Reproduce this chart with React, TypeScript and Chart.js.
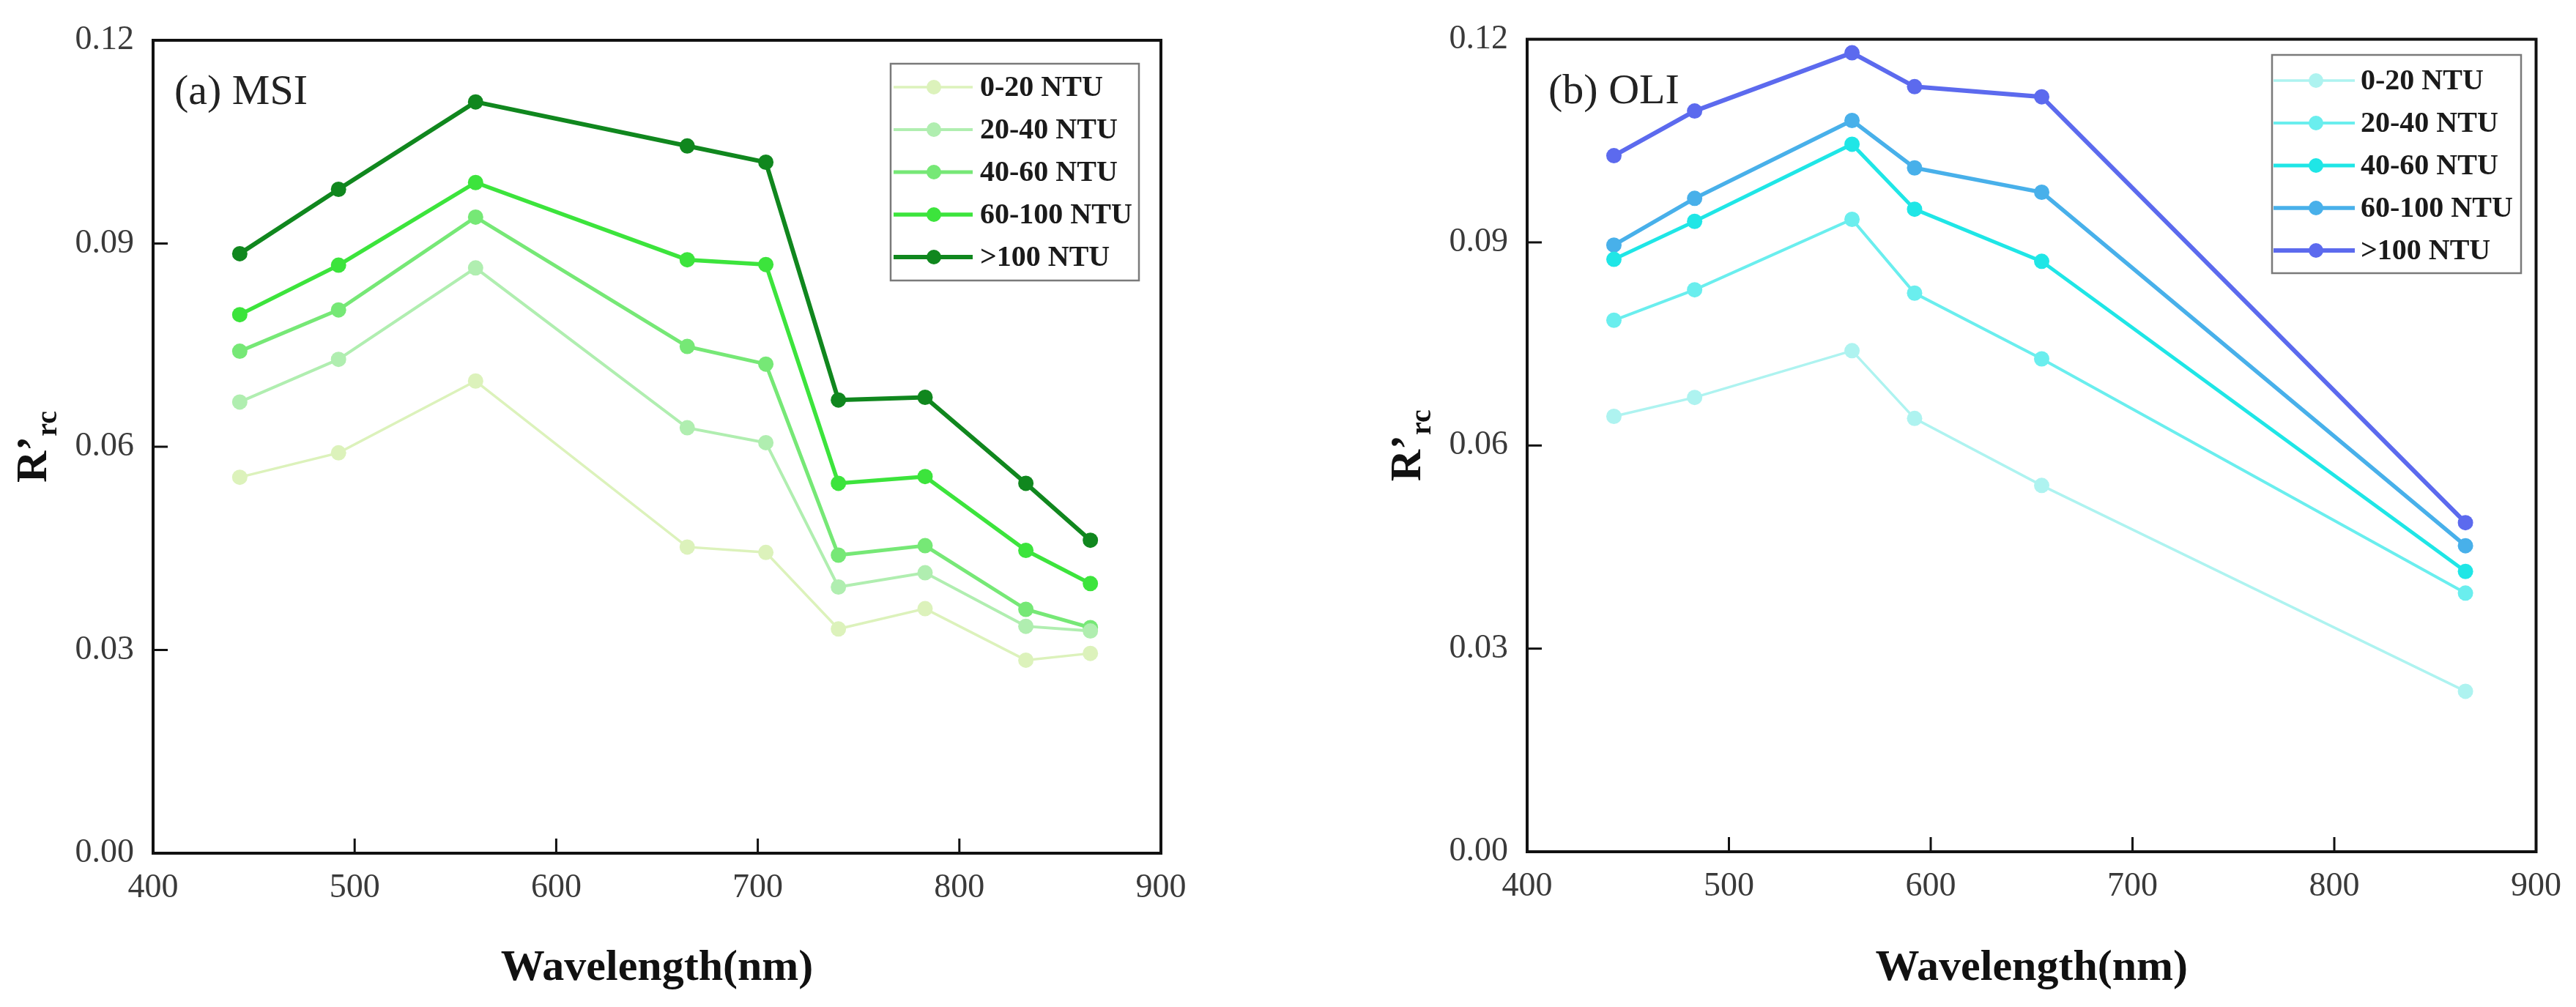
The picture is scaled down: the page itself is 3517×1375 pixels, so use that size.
import React, { useEffect, useRef } from "react";
import { Chart, registerables } from "chart.js";

Chart.register(...registerables);

// ---------- data ----------
const NTU_LABELS = ["0-20 NTU", "20-40 NTU", "40-60 NTU", "60-100 NTU", ">100 NTU"];

const MSI_WAVELENGTHS = [443, 492, 560, 665, 704, 740, 783, 833, 865];
const MSI_0_20 = [0.0555, 0.0591, 0.0697, 0.0452, 0.0444, 0.0331, 0.0361, 0.0285, 0.0295];
const MSI_20_40 = [0.0666, 0.0729, 0.0864, 0.0628, 0.0606, 0.0393, 0.0414, 0.0335, 0.0328];
const MSI_40_60 = [0.0741, 0.0802, 0.0939, 0.0748, 0.0722, 0.044, 0.0454, 0.036, 0.0333];
const MSI_60_100 = [0.0795, 0.0868, 0.099, 0.0876, 0.0869, 0.0546, 0.0556, 0.0447, 0.0398];
const MSI_GT100 = [0.0885, 0.098, 0.1109, 0.1044, 0.102, 0.0669, 0.0673, 0.0546, 0.0462];

const OLI_WAVELENGTHS = [443, 483, 561, 592, 655, 865];
const OLI_0_20 = [0.0643, 0.0671, 0.074, 0.064, 0.0541, 0.0237];
const OLI_20_40 = [0.0785, 0.083, 0.0934, 0.0825, 0.0728, 0.0382];
const OLI_40_60 = [0.0875, 0.0931, 0.1045, 0.0949, 0.0872, 0.0414];
const OLI_60_100 = [0.0896, 0.0965, 0.108, 0.101, 0.0974, 0.0452];
const OLI_GT100 = [0.1028, 0.1094, 0.118, 0.113, 0.1115, 0.0486];

const X_TICKS = [400, 500, 600, 700, 800, 900];
const Y_TICKS = [0, 0.03, 0.06, 0.09, 0.12];

const MSI_COLORS = ["#dcf2bb", "#b0eeb0", "#76e876", "#3ce43c", "#10871e"];
const OLI_COLORS = ["#aef3f0", "#6aeeee", "#1fe6e6", "#48b0ea", "#5c6aee"];
const LINE_WIDTHS = [3.5, 4, 5, 5.5, 6];

const FONT = "'Liberation Serif', 'DejaVu Serif', serif";
const H = 1375;

type Panel = {
  tag: string;
  xs: number[];
  series: number[][];
  colors: string[];
  canvasLeft: number;
  width: number;
  plot: { left: number; top: number; right: number; bottom: number };
  legend: { x0: number; y0: number; x1: number; y1: number; firstY: number; step: number; lineX0: number; lineX1: number; markerX: number; textX: number };
};

const PANELS: Panel[] = [
  {
    tag: "(a) MSI",
    xs: MSI_WAVELENGTHS,
    series: [MSI_0_20, MSI_20_40, MSI_40_60, MSI_60_100, MSI_GT100],
    colors: MSI_COLORS,
    canvasLeft: 0,
    width: 1758,
    plot: { left: 209, top: 55, right: 1585, bottom: 1165 },
    legend: { x0: 1216, y0: 87, x1: 1555, y1: 383, firstY: 119, step: 58, lineX0: 1220, lineX1: 1328, markerX: 1275, textX: 1338 },
  },
  {
    tag: "(b) OLI",
    xs: OLI_WAVELENGTHS,
    series: [OLI_0_20, OLI_20_40, OLI_40_60, OLI_60_100, OLI_GT100],
    colors: OLI_COLORS,
    canvasLeft: 1758,
    width: 1759,
    plot: { left: 327, top: 48, right: 1709, bottom: 1163 },
    legend: { x0: 1344, y0: 75, x1: 1684, y1: 373, firstY: 110, step: 58, lineX0: 1346, lineX1: 1457, markerX: 1404, textX: 1465 },
  },
];

function makeDecorPlugin(p: Panel) {
  return {
    id: "decor",
    afterDraw(chart: any) {
      const ctx = chart.ctx as CanvasRenderingContext2D;
      const area = chart.chartArea;
      const xs = chart.scales.x;
      const ys = chart.scales.y;
      ctx.save();
      // ticks (inward)
      ctx.strokeStyle = "#111";
      ctx.lineWidth = 3;
      X_TICKS.slice(1, -1).forEach((v) => {
        const px = xs.getPixelForValue(v);
        ctx.beginPath();
        ctx.moveTo(px, area.bottom);
        ctx.lineTo(px, area.bottom - 20);
        ctx.stroke();
      });
      Y_TICKS.slice(1, -1).forEach((v) => {
        const py = ys.getPixelForValue(v);
        ctx.beginPath();
        ctx.moveTo(area.left, py);
        ctx.lineTo(area.left + 20, py);
        ctx.stroke();
      });
      // frame
      ctx.lineWidth = 4;
      ctx.strokeStyle = "#111";
      ctx.strokeRect(area.left, area.top, area.right - area.left, area.bottom - area.top);

      // panel tag
      ctx.fillStyle = "#222";
      ctx.font = `58px ${FONT}`;
      ctx.textAlign = "left";
      ctx.textBaseline = "alphabetic";
      ctx.fillText(p.tag, area.left + 29, area.top + 87);

      // legend
      const L = p.legend;
      ctx.fillStyle = "#fff";
      ctx.fillRect(L.x0, L.y0, L.x1 - L.x0, L.y1 - L.y0);
      ctx.strokeStyle = "#7a7a7a";
      ctx.lineWidth = 2.5;
      ctx.strokeRect(L.x0, L.y0, L.x1 - L.x0, L.y1 - L.y0);
      chart.data.datasets.forEach((ds: any, i: number) => {
        const y = L.firstY + i * L.step;
        ctx.strokeStyle = ds.borderColor;
        ctx.lineWidth = ds.borderWidth;
        ctx.beginPath();
        ctx.moveTo(L.lineX0, y);
        ctx.lineTo(L.lineX1, y);
        ctx.stroke();
        ctx.fillStyle = ds.pointBackgroundColor;
        ctx.beginPath();
        ctx.arc(L.markerX, y, 10, 0, Math.PI * 2);
        ctx.fill();
        ctx.fillStyle = "#1a1a1a";
        ctx.font = `bold 40px ${FONT}`;
        ctx.textAlign = "left";
        ctx.textBaseline = "middle";
        ctx.fillText(ds.label, L.textX, y + 2);
      });

      // x title
      ctx.fillStyle = "#111";
      ctx.font = `bold 60px ${FONT}`;
      ctx.textAlign = "center";
      ctx.textBaseline = "alphabetic";
      ctx.fillText("Wavelength(nm)", (area.left + area.right) / 2, 1338);

      // y title R'rc
      ctx.translate(area.left - 146, (area.top + area.bottom) / 2);
      ctx.rotate(-Math.PI / 2);
      ctx.textAlign = "left";
      const main = "R\u2019";
      const sub = "rc";
      ctx.font = `bold 60px ${FONT}`;
      const wMain = ctx.measureText(main).width;
      ctx.font = `bold 40px ${FONT}`;
      const wSub = ctx.measureText(sub).width;
      const start = -(wMain + wSub) / 2;
      ctx.font = `bold 60px ${FONT}`;
      ctx.fillText(main, start, 0);
      ctx.font = `bold 40px ${FONT}`;
      ctx.fillText(sub, start + wMain, 14);
      ctx.restore();
    },
  };
}

function PanelChart({ p }: { p: Panel }) {
  const ref = useRef<HTMLCanvasElement | null>(null);
  useEffect(() => {
    const canvas = ref.current;
    if (!canvas) return;
    const datasets = p.series.map((vals, i) => ({
      label: NTU_LABELS[i],
      data: p.xs.map((x, j) => ({ x, y: vals[j] })),
      borderColor: p.colors[i],
      backgroundColor: p.colors[i],
      pointBackgroundColor: p.colors[i],
      pointBorderColor: p.colors[i],
      pointBorderWidth: 0,
      pointRadius: 10.5,
      borderWidth: LINE_WIDTHS[i],
      tension: 0,
      fill: false,
    }));
    const chart = new Chart(canvas, {
      type: "line",
      data: { datasets },
      options: {
        animation: false,
        responsive: false,
        devicePixelRatio: 1,
        layout: { padding: { left: 0, top: p.plot.top, right: p.width - p.plot.right, bottom: 0 } },
        plugins: { legend: { display: false }, tooltip: { enabled: false } },
        scales: {
          x: {
            type: "linear",
            min: 400,
            max: 900,
            grid: { display: false, drawTicks: false, tickLength: 0 },
            border: { display: false },
            afterBuildTicks: (s: any) => {
              s.ticks = X_TICKS.map((v) => ({ value: v }));
            },
            afterFit: (s: any) => {
              s.height = H - p.plot.bottom;
            },
            ticks: {
              padding: 20,
              color: "#3a3a3a",
              font: { family: FONT, size: 46 },
              maxRotation: 0,
              callback: (v: any) => String(v),
            },
          },
          y: {
            type: "linear",
            min: 0,
            max: 0.12,
            grid: { display: false, drawTicks: false, tickLength: 0 },
            border: { display: false },
            afterBuildTicks: (s: any) => {
              s.ticks = Y_TICKS.map((v) => ({ value: v }));
            },
            afterFit: (s: any) => {
              s.width = p.plot.left;
            },
            ticks: {
              padding: 26,
              color: "#3a3a3a",
              font: { family: FONT, size: 46 },
              callback: (v: any) => Number(v).toFixed(2),
            },
          },
        },
      },
      plugins: [makeDecorPlugin(p)],
    } as any);
    return () => chart.destroy();
  }, [p]);
  return (
    <canvas
      ref={ref}
      width={p.width}
      height={H}
      style={{ position: "absolute", left: p.canvasLeft, top: 0, width: p.width, height: H }}
    />
  );
}

export default function App() {
  return (
    <div style={{ position: "absolute", left: 0, top: 0, width: 3517, height: H, background: "#fff" }}>
      {PANELS.map((p) => (
        <PanelChart key={p.tag} p={p} />
      ))}
    </div>
  );
}
